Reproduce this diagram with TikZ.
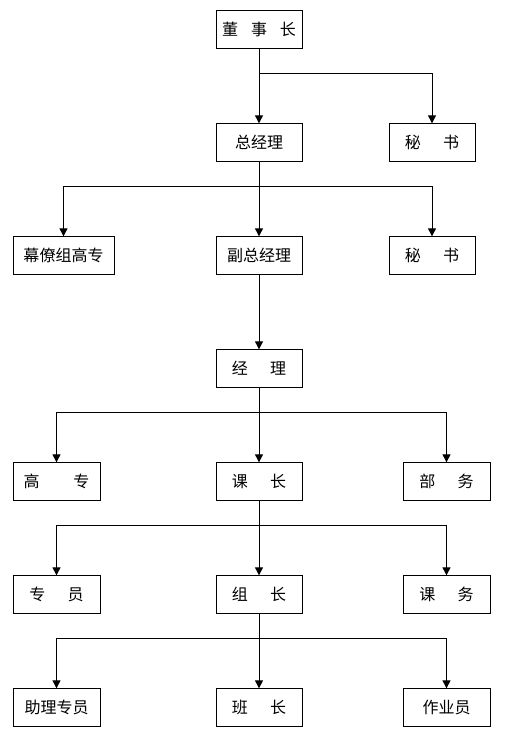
\documentclass[tikz,border=0pt]{standalone}
\usepackage{fontspec}
\setmainfont{Noto Sans CJK SC}
\usetikzlibrary{positioning,arrows.meta}

\newcommand{\narrowgap}{\hspace{0.8em}}
\newcommand{\widegap}{\hspace{1.4em}}

\begin{document}
\begin{tikzpicture}[x=0.75pt, y=-0.75pt, >={Triangle[width=6pt,length=6pt]},
    line width=0.75pt, node distance=56pt and 64.5pt,
    every node/.style={font=\fontsize{12pt}{14pt}\selectfont},
    box/.style={draw, minimum width=64.5pt, minimum height=28pt, inner sep=0pt},
    sidebox/.style={box, minimum width=65.25pt}]
  \useasboundingbox (0,0) rectangle (505,734);

  \node (chair) [box] at (259,29.5) {董\narrowgap 事\narrowgap 长};
  \node (gm)    [box, below=of chair] {总经理};
  \node (sec1)  [box, right=64.5pt of gm] {秘\widegap 书};

  \node (dgm)   [box, below=of gm] {副总经理};
  \node (staff) [box, minimum width=75.75pt, left=75.75pt of dgm] {幕僚组高专};
  \node (sec2)  [box, right=64.5pt of dgm] {秘\widegap 书};

  \node (mgr)   [box, below=of dgm] {经\widegap 理};

  \node (chief) [box, below=of mgr] {课\widegap 长};
  \node (senior)[sidebox, left=86.25pt of chief] {高\hspace{2.1em}专};
  \node (dept)  [sidebox, right=75pt of chief] {部\widegap 务};

  \node (group) [box, below=of chief] {组\widegap 长};
  \node (clerk) [sidebox, left=86.25pt of group] {专\widegap 员};
  \node (affair)[sidebox, right=75pt of group] {课\widegap 务};

  \node (team)  [box, below=of group] {班\widegap 长};
  \node (assist)[sidebox, left=86.25pt of team] {助理专员};
  \node (worker)[sidebox, right=75pt of team] {作业员};

  % branch points
  \coordinate (b1) at ([yshift=-18.75pt]chair.south);
  \coordinate (b2) at ([yshift=-18.75pt]gm.south);
  \coordinate (b3) at ([yshift=-18.75pt]mgr.south);
  \coordinate (b4) at ([yshift=-18.75pt]chief.south);
  \coordinate (b5) at ([yshift=-18.75pt]group.south);

  \draw[->] (chair) -- (gm);
  \draw[->] (b1) -| (sec1);

  \draw[->] (gm) -- (dgm);
  \draw[->] (b2) -| (staff);
  \draw[->] (b2) -| (sec2);

  \draw[->] (dgm) -- (mgr);

  \draw[->] (mgr) -- (chief);
  \draw[->] (b3) -| (senior);
  \draw[->] (b3) -| (dept);

  \draw[->] (chief) -- (group);
  \draw[->] (b4) -| (clerk);
  \draw[->] (b4) -| (affair);

  \draw[->] (group) -- (team);
  \draw[->] (b5) -| (assist);
  \draw[->] (b5) -| (worker);
\end{tikzpicture}
\end{document}
